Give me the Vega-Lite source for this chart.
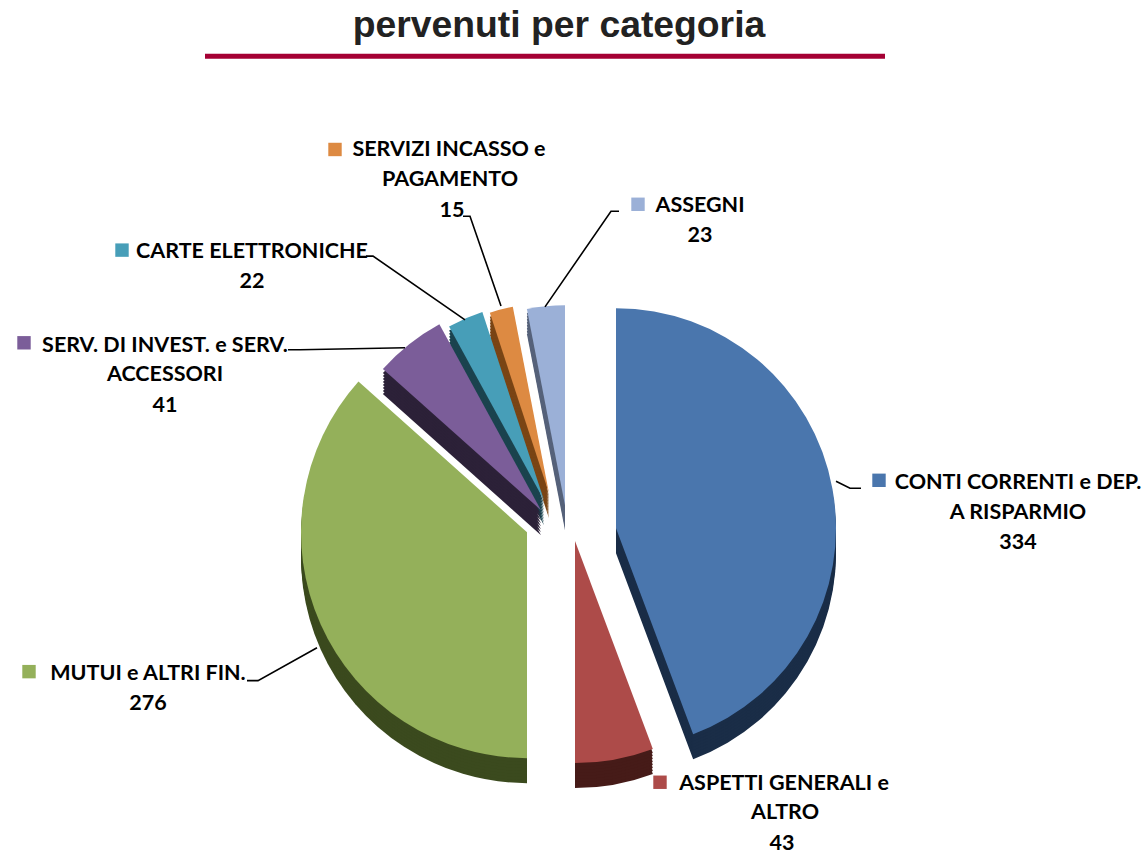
{
"$schema":"https://vega.github.io/schema/vega-lite/v6.json",
"autosize":{"type":"fit","contains":"padding"},
"width":1143,"height":855,"padding":0,"background":"#ffffff",
"view":{"stroke":null},
"datasets":{
"fette":[
{"categoria":"CONTI","valore":334},
{"categoria":"ASPETTI","valore":43},
{"categoria":"MUTUI","valore":276},
{"categoria":"SERV","valore":41},
{"categoria":"CARTE","valore":22},
{"categoria":"SERVIZI","valore":15},
{"categoria":"ASSEGNI","valore":23}],
"righe":[
{"categoria":"CONTI","riga":0,"testo":"CONTI CORRENTI e DEP."},
{"categoria":"CONTI","riga":1,"testo":"A RISPARMIO"},
{"categoria":"CONTI","riga":2,"testo":"334"},
{"categoria":"ASPETTI","riga":0,"testo":"ASPETTI GENERALI e"},
{"categoria":"ASPETTI","riga":1,"testo":"ALTRO"},
{"categoria":"ASPETTI","riga":2,"testo":"43"},
{"categoria":"MUTUI","riga":0,"testo":"MUTUI e ALTRI FIN."},
{"categoria":"MUTUI","riga":1,"testo":"276"},
{"categoria":"SERV","riga":0,"testo":"SERV. DI INVEST. e SERV."},
{"categoria":"SERV","riga":1,"testo":"ACCESSORI"},
{"categoria":"SERV","riga":2,"testo":"41"},
{"categoria":"CARTE","riga":0,"testo":"CARTE ELETTRONICHE"},
{"categoria":"CARTE","riga":1,"testo":"22"},
{"categoria":"SERVIZI","riga":0,"testo":"SERVIZI INCASSO e"},
{"categoria":"SERVIZI","riga":1,"testo":"PAGAMENTO"},
{"categoria":"SERVIZI","riga":2,"testo":"15"},
{"categoria":"ASSEGNI","riga":0,"testo":"ASSEGNI"},
{"categoria":"ASSEGNI","riga":1,"testo":"23"}],
"guide":[
{"categoria":"CONTI","punto":0},{"categoria":"CONTI","punto":1},{"categoria":"CONTI","punto":2},
{"categoria":"MUTUI","punto":0},{"categoria":"MUTUI","punto":1},{"categoria":"MUTUI","punto":2},
{"categoria":"SERV","punto":0},{"categoria":"SERV","punto":1},{"categoria":"SERV","punto":2},
{"categoria":"CARTE","punto":0},{"categoria":"CARTE","punto":1},{"categoria":"CARTE","punto":2},
{"categoria":"SERVIZI","punto":0},{"categoria":"SERVIZI","punto":1},{"categoria":"SERVIZI","punto":2},
{"categoria":"ASSEGNI","punto":0},{"categoria":"ASSEGNI","punto":1},{"categoria":"ASSEGNI","punto":2}],
"intestazione":[{"titolo":"pervenuti per categoria"}]
},
"layer":[
{"data":{"name":"fette"},
"transform":[
{"stack":"valore","groupby":[],"as":["a0","a1"]},
{"calculate":"{'CONTI':[616,530,220],'ASPETTI':[575,543,222],'MUTUI':[527,534,226],'SERV':[541,512,212],'CARTE':[544,502,198],'SERVIZI':[549,495,190],'ASSEGNI':[565,507,200]}[datum.categoria]","as":"geo"},
{"calculate":"datum.geo[0]","as":"cx"},{"calculate":"datum.geo[1]","as":"cy"},{"calculate":"datum.geo[2]","as":"r"}],
"encoding":{
"x":{"field":"cx","type":"quantitative","axis":null,"scale":{"domain":[0,1143],"nice":false,"zero":false}},
"y":{"field":"cy","type":"quantitative","axis":null,"scale":{"domain":[855,0],"nice":false,"zero":false}},
"theta":{"field":"a0","type":"quantitative","scale":{"domain":[0,754]}},
"theta2":{"field":"a1"},
"radius":{"field":"r","type":"quantitative","scale":null},
"fill":{"field":"categoria","type":"nominal","legend":null,"scale":{"domain":["CONTI","ASPETTI","MUTUI","SERV","CARTE","SERVIZI","ASSEGNI"],"range":["#1a2d47","#461b18","#3b4a1e","#2c2138","#1b434e","#7a4515","#56627a"]}}
},
"layer":[
{"mark":{"type":"arc","yOffset":25}},
{"mark":{"type":"arc","yOffset":22}},
{"mark":{"type":"arc","yOffset":19}},
{"mark":{"type":"arc","yOffset":16}},
{"mark":{"type":"arc","yOffset":13}},
{"mark":{"type":"arc","yOffset":10}},
{"mark":{"type":"arc","yOffset":7}},
{"mark":{"type":"arc","yOffset":4}},
{"mark":{"type":"arc"},"encoding":{"fill":{"field":"categoria","type":"nominal","legend":null,"scale":{"domain":["CONTI","ASPETTI","MUTUI","SERV","CARTE","SERVIZI","ASSEGNI"],"range":["#4a76ad","#ad4b49","#94b05a","#7b5d99","#479eb8","#dd8a42","#9bb0d7"]}}},"name":"superficie"}
],
"resolve":{"scale":{"fill":"independent"}}
},
{"data":{"name":"guide"},
"transform":[
{"calculate":"{'CONTI':[[861,490],[850,490],[836,483]],'MUTUI':[[247,683],[258,683],[317,650]],'SERV':[[288,351],[300,351],[405,349]],'CARTE':[[366,257],[373,257],[465,321]],'SERVIZI':[[463,217],[470,217],[501,307]],'ASSEGNI':[[619,212],[611,212],[545,308]]}[datum.categoria][datum.punto]","as":"p"},
{"calculate":"datum.p[0]","as":"px"},{"calculate":"datum.p[1]","as":"py"}],
"mark":{"type":"line","color":"#000000","strokeWidth":1.6},
"encoding":{
"x":{"field":"px","type":"quantitative","axis":null,"scale":{"domain":[0,1143],"nice":false,"zero":false}},
"y":{"field":"py","type":"quantitative","axis":null,"scale":{"domain":[855,0],"nice":false,"zero":false}},
"detail":{"field":"categoria"},
"order":{"field":"punto"}}
},
{"data":{"name":"fette"},
"transform":[
{"calculate":"{'CONTI':[879,482],'ASPETTI':[660,785],'MUTUI':[29,674],'SERV':[24,344],'CARTE':[122,251],'SERVIZI':[335,150],'ASSEGNI':[638,205]}[datum.categoria]","as":"k"},
{"calculate":"datum.k[0]","as":"kx"},{"calculate":"datum.k[1]","as":"ky"}],
"mark":{"type":"point","shape":"square","filled":true,"size":180,"opacity":1},
"encoding":{
"x":{"field":"kx","type":"quantitative","axis":null,"scale":{"domain":[0,1143],"nice":false,"zero":false}},
"y":{"field":"ky","type":"quantitative","axis":null,"scale":{"domain":[855,0],"nice":false,"zero":false}},
"color":{"field":"categoria","type":"nominal","legend":null,"scale":{"domain":["CONTI","ASPETTI","MUTUI","SERV","CARTE","SERVIZI","ASSEGNI"],"range":["#4a76ad","#ad4b49","#94b05a","#7b5d99","#479eb8","#dd8a42","#9bb0d7"]}}}
},
{"data":{"name":"righe"},
"transform":[
{"calculate":"{'CONTI':[[1018,483],[1018,513],[1018,543]],'ASPETTI':[[784,785],[785,814],[782,845]],'MUTUI':[[148,674],[148,704]],'SERV':[[165,345],[165,374],[165,405]],'CARTE':[[252,251],[252,281]],'SERVIZI':[[449,149],[450,179],[452,210]],'ASSEGNI':[[700,205],[700,235]]}[datum.categoria][datum.riga]","as":"t"},
{"calculate":"datum.t[0]","as":"tx"},{"calculate":"datum.t[1]","as":"ty"}],
"mark":{"type":"text","font":"Lato","fontWeight":"bold","fontSize":21.5,"dy":2,"color":"#000000","align":"center","baseline":"middle"},
"encoding":{
"x":{"field":"tx","type":"quantitative","axis":null,"scale":{"domain":[0,1143],"nice":false,"zero":false}},
"y":{"field":"ty","type":"quantitative","axis":null,"scale":{"domain":[855,0],"nice":false,"zero":false}},
"text":{"field":"testo"}}
},
{"data":{"name":"intestazione"},
"layer":[
{"mark":{"type":"text","font":"Liberation Sans","fontWeight":"bold","fontSize":37.3,"color":"#222222","align":"center","baseline":"middle"},
"encoding":{
"x":{"datum":559,"type":"quantitative","axis":null,"scale":{"domain":[0,1143],"nice":false,"zero":false}},
"y":{"datum":26,"type":"quantitative","axis":null,"scale":{"domain":[855,0],"nice":false,"zero":false}},
"text":{"field":"titolo"}}},
{"mark":{"type":"rule","color":"#a50034","strokeWidth":5},
"encoding":{
"x":{"datum":205,"type":"quantitative","axis":null,"scale":{"domain":[0,1143],"nice":false,"zero":false}},
"x2":{"datum":885},
"y":{"datum":56.5,"type":"quantitative","axis":null,"scale":{"domain":[855,0],"nice":false,"zero":false}}}}
]}
]
}
